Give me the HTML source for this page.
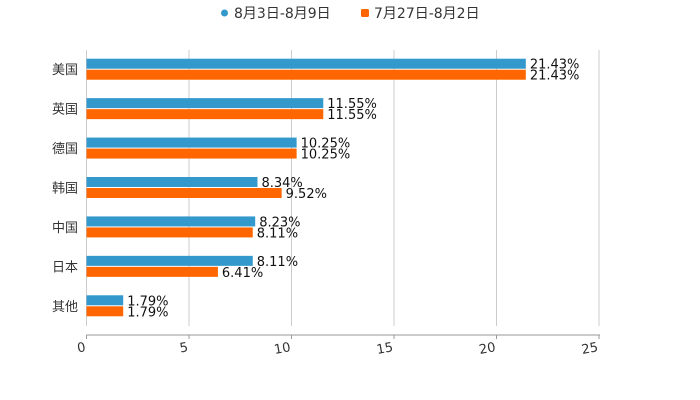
<!DOCTYPE html>
<html><head><meta charset="utf-8"><style>
body{margin:0;background:#fff;}
svg{display:block;font-family:"DejaVu Sans","Noto Sans CJK SC",sans-serif;}
</style></head><body>
<svg id="c" width="700" height="400"></svg>
<script>
const categories=["美国","英国","德国","韩国","中国","日本","其他"];
const seriesA=[21.43,11.55,10.25,8.34,8.23,8.11,1.79];
const seriesB=[21.43,11.55,10.25,9.52,8.11,6.41,1.79];
const seriesNames=["8月3日-8月9日","7月27日-8月2日"];
const ticks=[0,5,10,15,20,25];
const colors=["#3399cc","#ff6600"];
const svg=document.getElementById('c');
const NS="http://www.w3.org/2000/svg";
const x0=86.5,x1=599,plotTop=50,plotBottom=326,maxV=25;
const xs=v=>x0+(x1-x0)*v/maxV;
const band=(plotBottom-plotTop)/categories.length;
const yc=i=>plotTop+band*(i+0.5);
function el(t,a,p){const e=document.createElementNS(NS,t);for(const k in a)e.setAttribute(k,a[k]);(p||svg).appendChild(e);return e;}
ticks.forEach(t=>{
const g=el('line',{x1:xs(t),x2:xs(t),y1:plotTop,y2:plotBottom,stroke:'#ccc','stroke-width':1});


const tk=el('line',{x1:xs(t),x2:xs(t),y1:335,y2:339,stroke:'#999'});


const tx=el('text',{x:xs(t)-1,y:351,'font-size':13,fill:'#333','text-anchor':'end',transform:`rotate(-10 ${xs(t)} 347)`});
tx.textContent=t;


});
const ax=el('line',{x1:x0,x2:x1+1,y1:335,y2:335,stroke:'#999'});


categories.forEach((c,i)=>{
const y=yc(i);
const l=el('text',{x:78,y:y+4.5,'font-size':13,fill:'#333','text-anchor':'end'});
l.textContent=c;


[seriesA[i],seriesB[i]].forEach((v,s)=>{
const by=s===0?y-11:y;
const r=el('rect',{x:x0,y:by,width:xs(v)-x0,height:10,fill:colors[s]});


const t=el('text',{x:xs(v)+4,y:by+10,'font-size':13,fill:'#111'});
t.textContent=v.toFixed(2)+'%';


});
});
const lg=el('g',{});


const d=el('circle',{cx:224.5,cy:13,r:3.5,fill:colors[0]},lg);


const t1=el('text',{x:234,y:18,'font-size':14,fill:'#333'},lg);
t1.textContent=seriesNames[0];


const sq=el('rect',{x:361,y:9,width:8,height:8,rx:1.5,fill:colors[1]},lg);


const t2=el('text',{x:374,y:18,'font-size':14,fill:'#333'},lg);
t2.textContent=seriesNames[1];


</script>
</body></html>
